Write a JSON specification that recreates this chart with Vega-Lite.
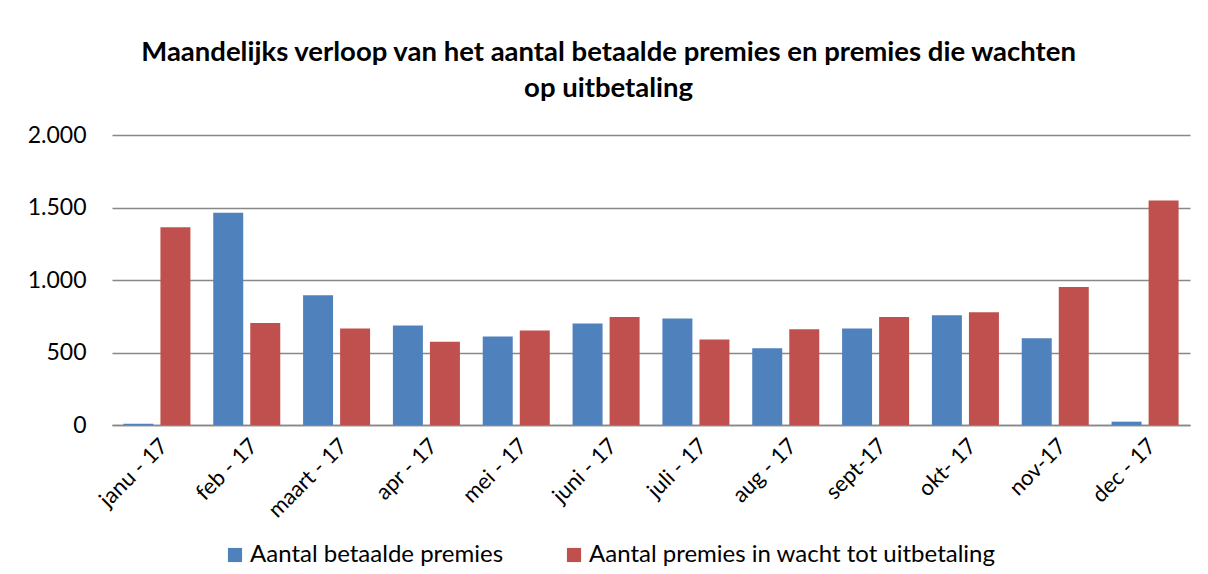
{
  "$schema": "https://vega.github.io/schema/vega-lite/v6.json",
  "autosize": {"type": "none"},
  "width": 1078,
  "height": 290,
  "padding": {"left": 112, "top": 135, "right": 18, "bottom": 149},
  "background": "white",
  "title": {
    "text": ["Maandelijks verloop van het aantal betaalde premies en premies die wachten", "op uitbetaling"],
    "font": "Lato",
    "fontSize": 27.5,
    "fontWeight": "bold",
    "color": "#000000",
    "anchor": "middle",
    "frame": "bounds",
    "lineHeight": 36,
    "offset": 22
  },
  "data": {
    "values": [
      {"maand": "janu - 17", "reeks": "Aantal betaalde premies", "waarde": 9},
      {"maand": "janu - 17", "reeks": "Aantal premies in wacht tot uitbetaling", "waarde": 1363},
      {"maand": "feb - 17", "reeks": "Aantal betaalde premies", "waarde": 1463},
      {"maand": "feb - 17", "reeks": "Aantal premies in wacht tot uitbetaling", "waarde": 704},
      {"maand": "maart - 17", "reeks": "Aantal betaalde premies", "waarde": 895},
      {"maand": "maart - 17", "reeks": "Aantal premies in wacht tot uitbetaling", "waarde": 665},
      {"maand": "apr - 17", "reeks": "Aantal betaalde premies", "waarde": 686},
      {"maand": "apr - 17", "reeks": "Aantal premies in wacht tot uitbetaling", "waarde": 575},
      {"maand": "mei - 17", "reeks": "Aantal betaalde premies", "waarde": 610},
      {"maand": "mei - 17", "reeks": "Aantal premies in wacht tot uitbetaling", "waarde": 652},
      {"maand": "juni - 17", "reeks": "Aantal betaalde premies", "waarde": 700},
      {"maand": "juni - 17", "reeks": "Aantal premies in wacht tot uitbetaling", "waarde": 745},
      {"maand": "juli - 17", "reeks": "Aantal betaalde premies", "waarde": 735},
      {"maand": "juli - 17", "reeks": "Aantal premies in wacht tot uitbetaling", "waarde": 590},
      {"maand": "aug - 17", "reeks": "Aantal betaalde premies", "waarde": 530},
      {"maand": "aug - 17", "reeks": "Aantal premies in wacht tot uitbetaling", "waarde": 660},
      {"maand": "sept-17", "reeks": "Aantal betaalde premies", "waarde": 665},
      {"maand": "sept-17", "reeks": "Aantal premies in wacht tot uitbetaling", "waarde": 745},
      {"maand": "okt- 17", "reeks": "Aantal betaalde premies", "waarde": 757},
      {"maand": "okt- 17", "reeks": "Aantal premies in wacht tot uitbetaling", "waarde": 778},
      {"maand": "nov-17", "reeks": "Aantal betaalde premies", "waarde": 598},
      {"maand": "nov-17", "reeks": "Aantal premies in wacht tot uitbetaling", "waarde": 952},
      {"maand": "dec - 17", "reeks": "Aantal betaalde premies", "waarde": 23},
      {"maand": "dec - 17", "reeks": "Aantal premies in wacht tot uitbetaling", "waarde": 1549}
    ]
  },
  "mark": {"type": "bar"},
  "encoding": {
    "x": {
      "field": "maand",
      "type": "nominal",
      "sort": null,
      "title": null,
      "scale": {"paddingInner": 0.254, "paddingOuter": 0.127},
      "axis": {
        "labelAngle": -45,
        "labelFont": "Lato",
        "labelFontSize": 22,
        "labelColor": "#000000",
        "ticks": false,
        "labelPadding": 10,
        "domainColor": "#888888",
        "domainWidth": 1.5,
        "grid": false
      }
    },
    "xOffset": {
      "field": "reeks",
      "type": "nominal",
      "scale": {"paddingInner": 0.19, "paddingOuter": 0}
    },
    "y": {
      "field": "waarde",
      "type": "quantitative",
      "title": null,
      "scale": {"domain": [0, 2000]},
      "axis": {
        "values": [0, 500, 1000, 1500, 2000],
        "format": ",d",
        "labelExpr": "replace(datum.label, ',', '.')",
        "labelFont": "Lato",
        "labelFontSize": 23,
        "labelColor": "#000000",
        "labelPadding": 26,
        "ticks": false,
        "domain": false,
        "gridColor": "#888888",
        "gridWidth": 1.5
      }
    },
    "color": {
      "field": "reeks",
      "type": "nominal",
      "title": null,
      "scale": {
        "domain": ["Aantal betaalde premies", "Aantal premies in wacht tot uitbetaling"],
        "range": ["#4F81BD", "#C0504D"]
      },
      "legend": {
        "orient": "none",
        "legendX": 111,
        "legendY": 408,
        "direction": "horizontal",
        "symbolType": "square",
        "symbolSize": 200,
        "symbolStrokeWidth": 0,
        "labelFont": "Lato",
        "labelFontSize": 24,
        "labelColor": "#000000",
        "labelLimit": 600,
        "labelOffset": 3,
        "columnPadding": 58
      }
    }
  },
  "config": {
    "view": {"stroke": null}
  }
}
